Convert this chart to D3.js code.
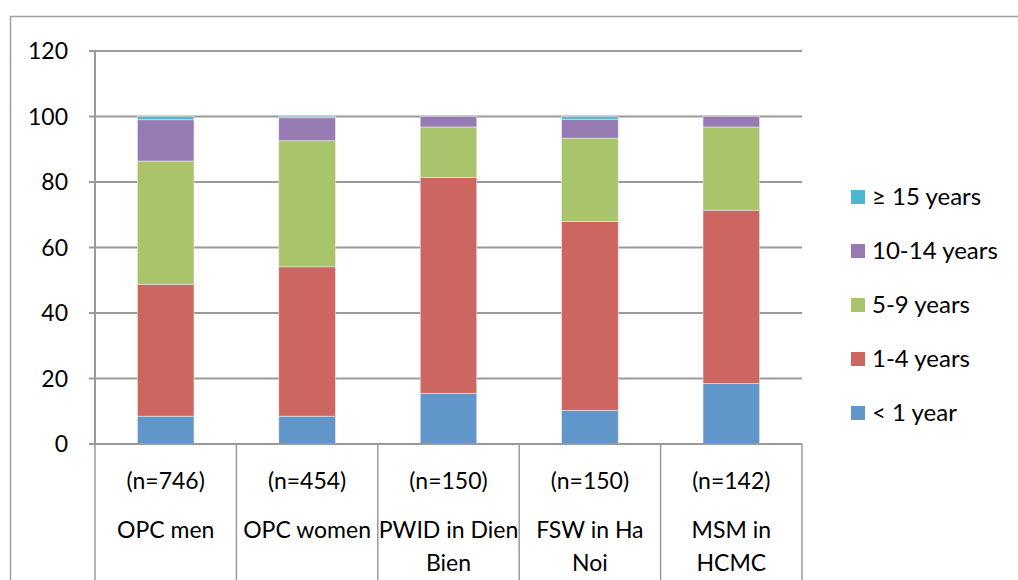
<!DOCTYPE html>
<html>
<head>
<meta charset="utf-8">
<script src="https://cdn.jsdelivr.net/npm/d3@7"></script>
<style>
  html, body { margin: 0; padding: 0; background: #fff; }
  svg { display: block; font-family: Lato, "Open Sans", sans-serif; }
</style>
</head>
<body>
<svg id="chart" width="1018" height="580"></svg>
<script>
const categories = ["OPC men", "OPC women", "PWID in Dien Bien", "FSW in Ha Noi", "MSM in HCMC"]
const sampleSizes = ["(n=746)", "(n=454)", "(n=150)", "(n=150)", "(n=142)"]
// wrapped tick label lines, the way the source chart breaks them
const categoryLines = [["OPC men"], ["OPC women"], ["PWID in Dien", "Bien"], ["FSW in Ha", "Noi"], ["MSM in", "HCMC"]]

const seriesNames = ["< 1 year", "1-4 years", "5-9 years", "10-14 years", "\u2265 15 years"]
const lessThan1 = [8.5, 8.5, 15.5, 10.3, 18.5]
const years1to4 = [40.3, 45.6, 65.9, 57.7, 52.9]
const years5to9 = [37.6, 38.5, 15.4, 25.4, 25.4]
const years10to14 = [12.6, 7.0, 3.2, 5.8, 3.2]
const years15plus = [1.0, 0.4, 0, 0.8, 0]
const yTicks = [0, 20, 40, 60, 80, 100, 120]

const seriesValues = [lessThan1, years1to4, years5to9, years10to14, years15plus]
const colors = ["#6196CB", "#CD6660", "#AAC46C", "#957BB1", "#4EB6CE"]

const svg = d3.select("#chart")

const plot = { left: 95, right: 802, top: 51, bottom: 444 }
const gridColor = "#9a9a9a"

// outer chart frame (runs off the right and bottom edges)
svg.append("rect")
  .attr("x", 10.5).attr("y", 16.5)
  .attr("width", 1200).attr("height", 800)
  .attr("fill", "none")
  .attr("stroke", "#a0a0a0")
  .attr("stroke-width", 1.5)

const x = d3.scaleBand()
  .domain(categories)
  .range([plot.left, plot.right])
  .paddingInner(0.6)
  .paddingOuter(0.3)

const y = d3.scaleLinear()
  .domain([0, 120])
  .range([plot.bottom, plot.top])

// gridlines
svg.append("g")
  .selectAll("line")
  .data(yTicks)
  .join("line")
  .attr("x1", plot.left - 6)
  .attr("x2", plot.right)
  .attr("y1", d => y(d))
  .attr("y2", d => y(d))
  .attr("stroke", gridColor)
  .attr("stroke-width", 2)

// y tick labels
svg.append("g")
  .selectAll("text")
  .data(yTicks)
  .join("text")
  .attr("x", 68)
  .attr("y", d => y(d))
  .attr("dy", "0.35em")
  .attr("text-anchor", "end")
  .attr("font-size", 23)
  .attr("fill", "#000")
  .text(d => d)

// stacked bars
const rows = categories.map((c, i) => {
  const row = { category: c }
  seriesNames.forEach((s, j) => { row[s] = seriesValues[j][i] })
  return row
})
const stacked = d3.stack().keys(seriesNames)(rows)

svg.append("g")
  .selectAll("g")
  .data(stacked)
  .join("g")
  .attr("fill", (d, i) => colors[i])
  .selectAll("rect")
  .data(d => d.filter(p => p[1] - p[0] > 0))
  .join("rect")
  .attr("x", d => x(d.data.category))
  .attr("width", x.bandwidth())
  .attr("y", d => y(d[1]))
  .attr("height", d => y(d[0]) - y(d[1]))
  .attr("stroke", "#e6e6e6")
  .attr("stroke-width", 0.6)

// y axis line
svg.append("line")
  .attr("x1", plot.left).attr("x2", plot.left)
  .attr("y1", plot.top).attr("y2", plot.bottom)
  .attr("stroke", gridColor)
  .attr("stroke-width", 2)

// x axis line
svg.append("line")
  .attr("x1", plot.left).attr("x2", plot.right)
  .attr("y1", plot.bottom).attr("y2", plot.bottom)
  .attr("stroke", gridColor)
  .attr("stroke-width", 2)

// category dividers that run down past the labels
const boundaries = categories.map(c => x(c) - x.step() * x.paddingOuter()).concat([plot.right])
svg.append("g")
  .selectAll("line")
  .data(boundaries)
  .join("line")
  .attr("x1", d => d).attr("x2", d => d)
  .attr("y1", plot.bottom).attr("y2", 600)
  .attr("stroke", gridColor)
  .attr("stroke-width", 1.5)

// category labels
const labels = svg.append("g")
  .attr("font-size", 23)
  .attr("text-anchor", "middle")
  .attr("fill", "#000")

categories.forEach((c, i) => {
  const cx = x(c) + x.bandwidth() / 2
  labels.append("text")
    .attr("x", cx).attr("y", 481)
    .attr("dy", "0.35em")
    .text(sampleSizes[i])
  categoryLines[i].forEach((line, k) => {
    labels.append("text")
      .attr("x", cx).attr("y", 530 + k * 33)
      .attr("dy", "0.35em")
      .text(line)
  })
})

// legend, top entry is the last series
const legend = svg.append("g")
  .selectAll("g")
  .data(seriesNames.slice().reverse())
  .join("g")
  .attr("transform", (d, i) => `translate(851, ${197 + i * 54})`)

legend.append("rect")
  .attr("x", 0).attr("y", -7)
  .attr("width", 14).attr("height", 14)
  .attr("fill", d => colors[seriesNames.indexOf(d)])

legend.append("text")
  .attr("x", 21)
  .attr("y", 0)
  .attr("dy", "0.35em")
  .attr("font-size", 24)
  .attr("fill", "#000")
  .text(d => d)
</script>
</body>
</html>
